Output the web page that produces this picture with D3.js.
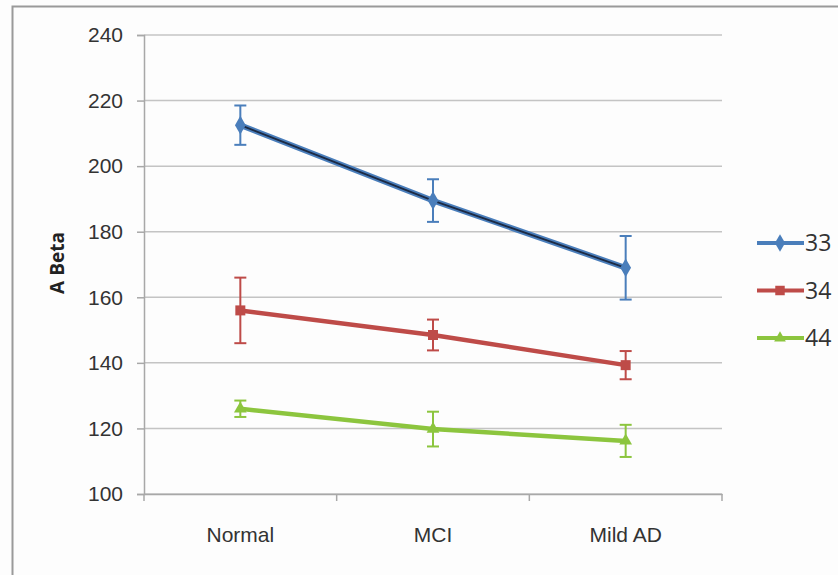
<!DOCTYPE html>
<html>
<head>
<meta charset="utf-8">
<script src="https://cdn.jsdelivr.net/npm/d3@7"></script>
<style>
  body { margin: 0; background: #fff; }
  svg { font-family: "Open Sans", sans-serif; }
</style>
</head>
<body>
<svg width="838" height="575"></svg>
<script>
// values
const categories = ['Normal', 'MCI', 'Mild AD'];
const seriesNames = ['33', '34', '44'];
const values33 = [212.5, 189.5, 169];
const values34 = [156, 148.5, 139.3];
const values44 = [126, 119.8, 116.2];
const err33 = [6, 6.5, 9.7];
const err34 = [10, 4.7, 4.3];
const err44 = [2.5, 5.3, 4.9];
const yTicks = [100, 120, 140, 160, 180, 200, 220, 240];

const colors = ['#4a7ebb', '#be4b48', '#8cc53e'];
const series = [
  { name: seriesNames[0], values: values33, err: err33, color: colors[0], shape: d3.symbolDiamond },
  { name: seriesNames[1], values: values34, err: err34, color: colors[1], shape: d3.symbolSquare },
  { name: seriesNames[2], values: values44, err: err44, color: colors[2], shape: d3.symbolTriangle }
];

const svg = d3.select('svg');

// outer frame
svg.append('rect').attr('x', 0).attr('y', 0).attr('width', 838).attr('height', 575).attr('fill', '#fdfdfd');
svg.append('path')
  .attr('d', 'M12.5,575 V6.5 H838')
  .attr('fill', 'none')
  .attr('stroke', '#9a9a9a')
  .attr('stroke-width', 2);

const plotLeft = 144, plotRight = 722, plotTop = 35, plotBottom = 494;

const x = d3.scaleBand().domain(categories).range([plotLeft, plotRight]);
const y = d3.scaleLinear().domain([100, 240]).range([plotBottom, plotTop]);
const cx = (i) => x(categories[i]) + x.bandwidth() / 2;

// gridlines
svg.append('g')
  .selectAll('line')
  .data(yTicks)
  .enter()
  .append('line')
  .attr('x1', plotLeft)
  .attr('x2', plotRight)
  .attr('y1', (d) => y(d))
  .attr('y2', (d) => y(d))
  .attr('stroke', '#c4c4c4')
  .attr('stroke-width', 1.5);

// y axis
const yAxis = svg.append('g')
  .attr('transform', `translate(${plotLeft},0)`)
  .call(d3.axisLeft(y).tickValues(yTicks).tickSize(7).tickPadding(14));
yAxis.select('.domain').attr('stroke', '#a8a8a8').attr('stroke-width', 1.5);
yAxis.selectAll('.tick line').attr('stroke', '#a8a8a8').attr('stroke-width', 1.5);
yAxis.selectAll('text').attr('font-size', 21).attr('fill', '#333');

// x axis
const xAxis = svg.append('g')
  .attr('transform', `translate(0,${plotBottom})`)
  .call(d3.axisBottom(x).tickSize(0).tickPadding(33));
xAxis.select('.domain').attr('stroke', '#a8a8a8').attr('stroke-width', 1.5);
xAxis.selectAll('text').attr('font-size', 21).attr('fill', '#333');
// boundary tick marks
svg.append('g')
  .selectAll('line')
  .data(d3.range(categories.length + 1))
  .enter()
  .append('line')
  .attr('x1', (i) => plotLeft + i * x.bandwidth())
  .attr('x2', (i) => plotLeft + i * x.bandwidth())
  .attr('y1', plotBottom)
  .attr('y2', plotBottom + 7)
  .attr('stroke', '#a8a8a8')
  .attr('stroke-width', 1.5);

// y title
svg.append('text')
  .attr('transform', 'translate(64,263) rotate(-90)')
  .attr('text-anchor', 'middle')
  .attr('font-size', 19)
  .attr('font-weight', 'bold')
  .attr('fill', '#222')
  .text('A Beta');

const line = d3.line().x((d, i) => cx(i)).y((d) => y(d));

series.forEach((s, k) => {
  const g = svg.append('g');
  g.append('path')
    .datum(s.values)
    .attr('d', line)
    .attr('fill', 'none')
    .attr('stroke', s.color)
    .attr('stroke-width', k === 0 ? 5.5 : 4.5);
  if (k === 0) {
    // dark line drawn over series 33
    g.append('path')
      .datum(s.values)
      .attr('d', line)
      .attr('fill', 'none')
      .attr('stroke', '#1c2a44')
      .attr('stroke-width', 1.8);
  }
  // error bars
  s.values.forEach((v, i) => {
    const e = s.err[i];
    g.append('line')
      .attr('x1', cx(i)).attr('x2', cx(i))
      .attr('y1', y(v + e)).attr('y2', y(v - e))
      .attr('stroke', s.color).attr('stroke-width', 2);
    [v + e, v - e].forEach((w) => {
      g.append('line')
        .attr('x1', cx(i) - 6).attr('x2', cx(i) + 6)
        .attr('y1', y(w)).attr('y2', y(w))
        .attr('stroke', s.color).attr('stroke-width', 2);
    });
  });
  g.selectAll('path.mark')
    .data(s.values)
    .enter()
    .append('path')
    .attr('class', 'mark')
    .attr('transform', (d, i) => `translate(${cx(i)},${y(d)})`)
    .attr('d', d3.symbol().type(s.shape).size(k === 2 ? 70 : 100))
    .attr('fill', s.color);

  // legend
  const ly = 243 + k * 47.5;
  svg.append('line')
    .attr('x1', 757).attr('x2', 804)
    .attr('y1', ly).attr('y2', ly)
    .attr('stroke', s.color).attr('stroke-width', 4);
  svg.append('path')
    .attr('transform', `translate(780,${ly})`)
    .attr('d', d3.symbol().type(s.shape).size(k === 2 ? 60 : 90))
    .attr('fill', s.color);
  svg.append('text')
    .attr('x', 805).attr('y', ly)
    .attr('dy', '0.36em')
    .attr('font-size', 23)
    .attr('fill', '#333')
    .text(s.name);
});
</script>
</body>
</html>
